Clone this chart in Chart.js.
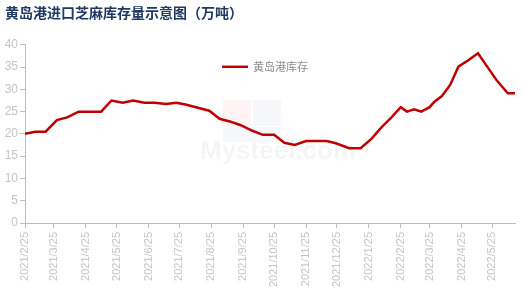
<!DOCTYPE html>
<html>
<head>
<meta charset="utf-8">
<script src="https://cdn.jsdelivr.net/npm/chart.js@4/dist/chart.umd.min.js"></script>
<style>
  html, body { margin: 0; padding: 0; background: #fff; }
  #wrap { width: 522px; height: 295px; position: relative; }
</style>
</head>
<body>
<div id="wrap"><canvas id="chart"></canvas></div>
<script>
// sample dates and stock (10k tonnes)
const dates = [
  '2021-02-25', '2021-03-07', '2021-03-17', '2021-03-28', '2021-04-07', '2021-04-18',
  '2021-04-29', '2021-05-10', '2021-05-20', '2021-05-31', '2021-06-10', '2021-06-21',
  '2021-07-01', '2021-07-12', '2021-07-22', '2021-07-31', '2021-08-10', '2021-08-23',
  '2021-09-02', '2021-09-12', '2021-09-22', '2021-10-04', '2021-10-14', '2021-10-25',
  '2021-11-04', '2021-11-14', '2021-11-25', '2021-12-05', '2021-12-15', '2021-12-24',
  '2022-01-06', '2022-01-17', '2022-01-28', '2022-02-06', '2022-02-16', '2022-02-25',
  '2022-03-03', '2022-03-10', '2022-03-17', '2022-03-25', '2022-03-30', '2022-04-06',
  '2022-04-14', '2022-04-22', '2022-05-02', '2022-05-11', '2022-05-20', '2022-05-29',
  '2022-06-09', '2022-06-16'
];
const stock = [
  20.0, 20.5, 20.5, 23.1, 23.7, 25.0,
  25.0, 25.0, 27.5, 27.0, 27.5, 27.0,
  27.0, 26.7, 27.0, 26.6, 26.0, 25.2,
  23.4, 22.8, 22.0, 20.7, 19.8, 19.8,
  18.0, 17.5, 18.4, 18.4, 18.4, 17.9,
  16.8, 16.8, 19.0, 21.4, 23.7, 26.0,
  25.0, 25.5, 25.0, 26.0, 27.3, 28.5,
  31.0, 35.1, 36.6, 38.1, 35.1, 32.1,
  29.1, 29.1
];
const tickDates = [
  '2021-02-25', '2021-03-25', '2021-04-25', '2021-05-25', '2021-06-25', '2021-07-25',
  '2021-08-25', '2021-09-25', '2021-10-25', '2021-11-25', '2021-12-25', '2022-01-25',
  '2022-02-25', '2022-03-25', '2022-04-25', '2022-05-25'
];
const tickLabels = [
  '2021/2/25', '2021/3/25', '2021/4/25', '2021/5/25', '2021/6/25', '2021/7/25',
  '2021/8/25', '2021/9/25', '2021/10/25', '2021/11/25', '2021/12/25', '2022/1/25',
  '2022/2/25', '2022/3/25', '2022/4/25', '2022/5/25'
];
const seriesName = '黄岛港库存';
const titleText = '黄岛港进口芝麻库存量示意图（万吨）';

const dayMs = 86400000;
const toDay = (s) => {
  const [y, m, d] = s.split('-').map(Number);
  return Math.round((Date.UTC(y, m - 1, d) - Date.UTC(2021, 1, 25)) / dayMs);
};
const points = dates.map((d, i) => ({ x: toDay(d), y: stock[i] }));
const tickDays = tickDates.map(toDay);

const axisColor = '#bfbfbf';
const labelColor = '#c4c4d0';

// faint site watermark behind the line
const watermark = {
  id: 'watermark',
  beforeDatasetsDraw(chart) {
    const c = chart.ctx;
    c.save();
    c.fillStyle = 'rgba(230, 60, 60, 0.06)';
    c.fillRect(223, 100, 28, 26);
    c.fillStyle = 'rgba(60, 90, 180, 0.05)';
    c.fillRect(253, 100, 28, 26);
    c.fillRect(223, 127, 58, 15);
    c.fillStyle = 'rgba(0, 0, 0, 0.04)';
    c.font = 'bold 26px "Liberation Sans", Arial, sans-serif';
    c.textBaseline = 'middle';
    c.fillText('Mysteel.com', 200, 152);
    c.restore();
  }
};

// legend drawn inside the plot, centred near the top
const innerLegend = {
  id: 'innerLegend',
  afterDraw(chart) {
    const ds = chart.data.datasets[0];
    const c = chart.ctx;
    const y = chart.chartArea.top + 22;
    c.save();
    c.strokeStyle = ds.borderColor;
    c.lineWidth = 2.5;
    c.beginPath();
    c.moveTo(222, y);
    c.lineTo(248, y);
    c.stroke();
    c.fillStyle = '#8c8c8c';
    c.font = '11px "Noto Sans CJK SC", sans-serif';
    c.textBaseline = 'middle';
    c.fillText(ds.label, 253, y);
    c.restore();
  }
};

new Chart(document.getElementById('chart'), {
  type: 'line',
  data: {
    datasets: [{
      label: seriesName,
      data: points,
      borderColor: '#c00000',
      backgroundColor: '#c00000',
      borderWidth: 2.5,
      pointRadius: 0,
      tension: 0,
      fill: false
    }]
  },
  options: {
    responsive: true,
    maintainAspectRatio: false,
    animation: false,
    layout: { padding: { left: 5, right: 7, top: 0, bottom: 0 } },
    plugins: {
      title: {
        display: true,
        text: titleText,
        align: 'start',
        color: '#1f3864',
        font: { family: '"Noto Sans CJK SC", sans-serif', size: 14, weight: 'bold' },
        padding: { top: 4, bottom: 24 }
      },
      legend: { display: false },
      tooltip: { enabled: false }
    },
    scales: {
      x: {
        type: 'linear',
        min: 0,
        max: 476,
        afterBuildTicks(scale) {
          scale.ticks = tickDays.map(v => ({ value: v }));
        },
        afterFit(scale) { scale.height = 72; },
        ticks: {
          autoSkip: false,
          minRotation: 90,
          maxRotation: 90,
          color: labelColor,
          padding: 4,
          font: { family: '"Liberation Sans", Arial, sans-serif', size: 11 },
          callback(value, index) { return tickLabels[index]; }
        },
        grid: { display: true, drawOnChartArea: false, drawTicks: true, tickLength: 5, color: axisColor },
        border: { display: true, color: axisColor }
      },
      y: {
        min: 0,
        max: 40,
        afterFit(scale) { scale.width = 20; },
        ticks: {
          stepSize: 5,
          color: labelColor,
          padding: 2,
          font: { family: '"Liberation Sans", Arial, sans-serif', size: 12 }
        },
        grid: { display: true, drawOnChartArea: false, drawTicks: true, tickLength: 5, color: axisColor },
        border: { display: true, color: axisColor }
      }
    }
  },
  plugins: [watermark, innerLegend]
});
</script>
</body>
</html>
